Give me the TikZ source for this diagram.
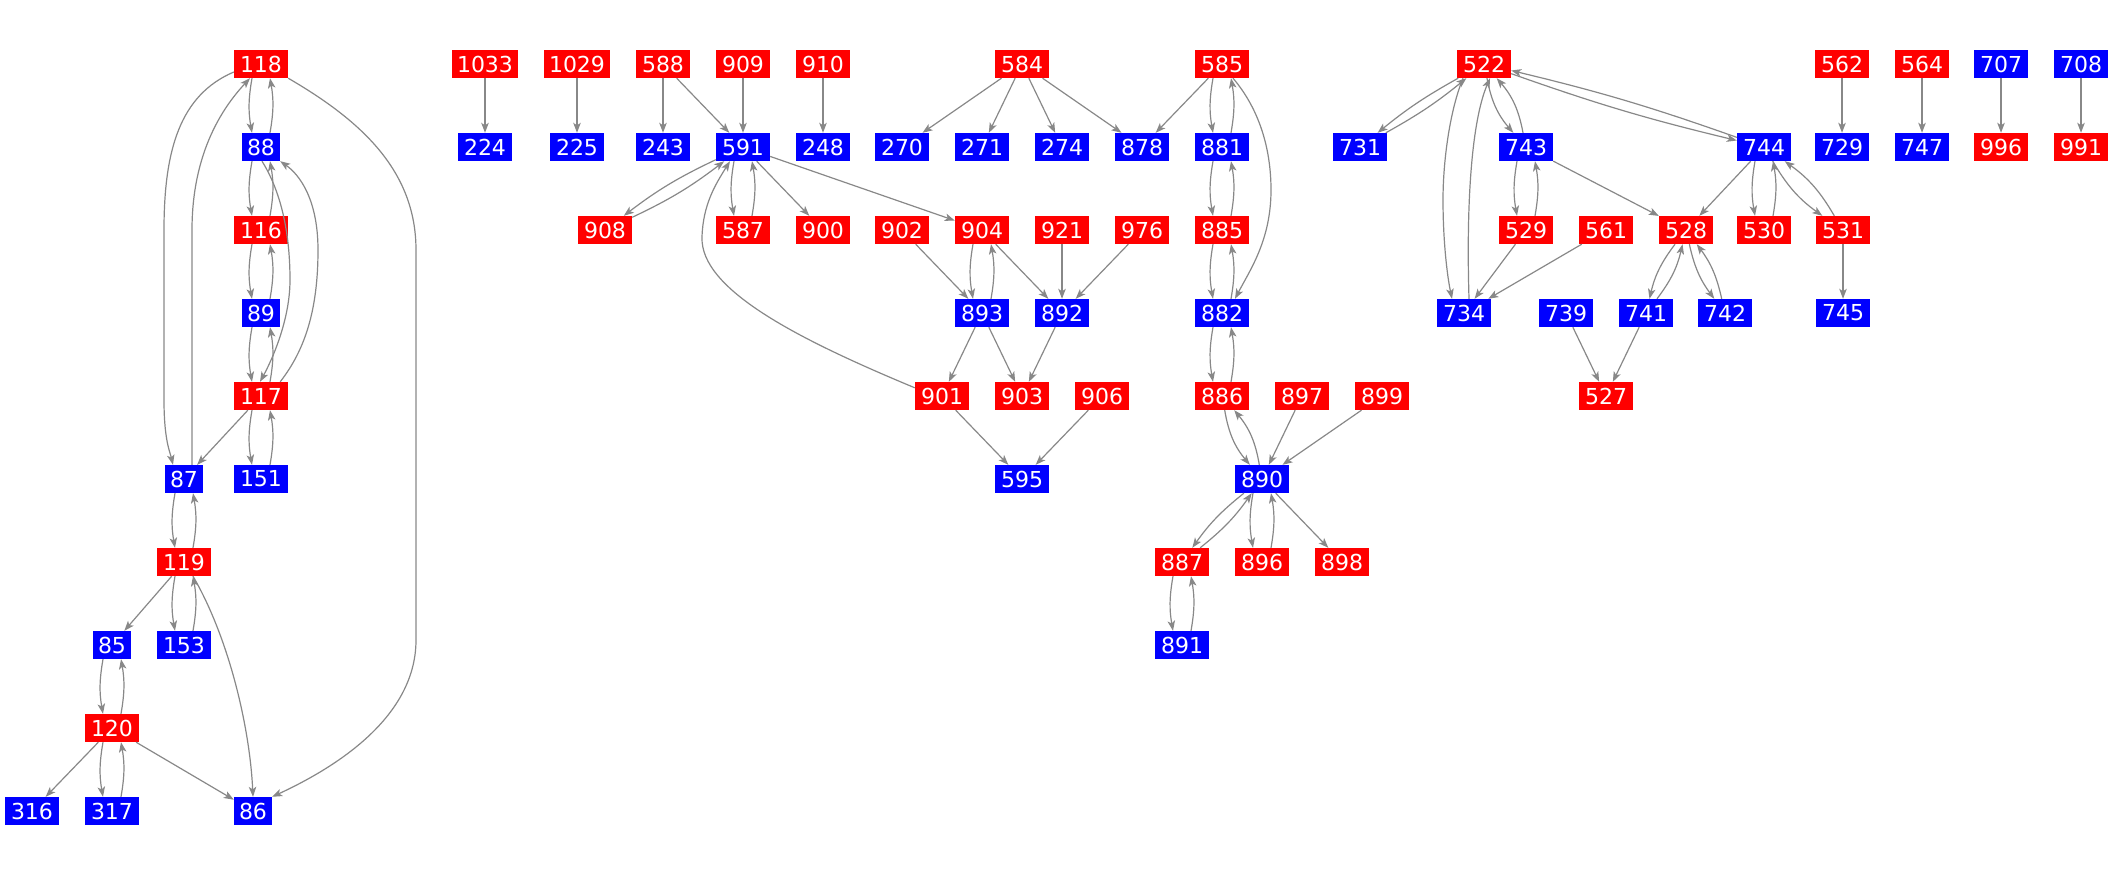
\documentclass[tikz,border=0pt]{standalone}
\usepackage{fontspec}
\setmainfont{DejaVu Sans}
\usetikzlibrary{arrows.meta}
\definecolor{eg}{HTML}{888888}
\definecolor{nr}{HTML}{FF0000}
\definecolor{nb}{HTML}{0000FF}
\newcommand{\VP}[2]{%
  \draw[e] ([xshift=-9pt]#1.south) to[bend right=10] ([xshift=-9pt]#2.north);
  \draw[e] ([xshift=9pt]#2.north) to[bend right=10] ([xshift=9pt]#1.south);}
\newcommand{\DP}[3]{%
  \draw[e] (#1) to[bend right=#3] (#2);
  \draw[e] (#2) to[bend right=#3] (#1);}
\begin{document}
\begin{tikzpicture}[x=1pt,y=-1pt,
  nd/.style={rectangle,inner sep=0pt,minimum height=28pt,text=white,
    font=\fontsize{22pt}{26pt}\selectfont},
  R/.style={nd,fill=nr,minimum width=54pt},
  B/.style={nd,fill=nb,minimum width=54pt},
  w2/.style={minimum width=38pt},
  w4/.style={minimum width=66pt},
  e/.style={draw=eg,line width=1.2pt,-{Stealth[length=10pt,width=7.5pt,inset=2.5pt]}}]
\useasboundingbox (0,0) rectangle (2117,875);
% left cluster
\node[R] (n118) at (261,64) {118};
\node[B,w2] (n88) at (261,147) {88};
\node[R] (n116) at (261,230) {116};
\node[B,w2] (n89) at (261,313) {89};
\node[R] (n117) at (261,396) {117};
\node[B,w2] (n87) at (184,479) {87};
\node[B] (n151) at (261,479) {151};
\node[R] (n119) at (184,562) {119};
\node[B,w2] (n85) at (112,645) {85};
\node[B] (n153) at (184,645) {153};
\node[R] (n120) at (112,728) {120};
\node[B] (n316) at (32,811) {316};
\node[B] (n317) at (112,811) {317};
\node[B,w2] (n86) at (253,811) {86};
% middle
\node[R,w4] (n1033) at (485,64) {1033};
\node[B] (n224) at (485,147) {224};
\node[R,w4] (n1029) at (577,64) {1029};
\node[B] (n225) at (577,147) {225};
\node[R] (n588) at (663,64) {588};
\node[B] (n243) at (663,147) {243};
\node[R] (n909) at (743,64) {909};
\node[B] (n591) at (743,147) {591};
\node[R] (n910) at (823,64) {910};
\node[B] (n248) at (823,147) {248};
\node[R] (n584) at (1022,64) {584};
\node[B] (n270) at (902,147) {270};
\node[B] (n271) at (982,147) {271};
\node[B] (n274) at (1062,147) {274};
\node[B] (n878) at (1142,147) {878};
\node[R] (n585) at (1222,64) {585};
\node[B] (n881) at (1222,147) {881};
\node[R] (n908) at (605,230) {908};
\node[R] (n587) at (743,230) {587};
\node[R] (n900) at (823,230) {900};
\node[R] (n902) at (902,230) {902};
\node[R] (n904) at (982,230) {904};
\node[R] (n921) at (1062,230) {921};
\node[R] (n976) at (1142,230) {976};
\node[R] (n885) at (1222,230) {885};
\node[B] (n893) at (982,313) {893};
\node[B] (n892) at (1062,313) {892};
\node[B] (n882) at (1222,313) {882};
\node[R] (n901) at (942,396) {901};
\node[R] (n903) at (1022,396) {903};
\node[R] (n906) at (1102,396) {906};
\node[R] (n886) at (1222,396) {886};
\node[R] (n897) at (1302,396) {897};
\node[R] (n899) at (1382,396) {899};
\node[B] (n595) at (1022,479) {595};
\node[B] (n890) at (1262,479) {890};
\node[R] (n887) at (1182,562) {887};
\node[R] (n896) at (1262,562) {896};
\node[R] (n898) at (1342,562) {898};
\node[B] (n891) at (1182,645) {891};
% right
\node[R] (n522) at (1484,64) {522};
\node[R] (n562) at (1842,64) {562};
\node[R] (n564) at (1922,64) {564};
\node[B] (n707) at (2001,64) {707};
\node[B] (n708) at (2081,64) {708};
\node[B] (n731) at (1360,147) {731};
\node[B] (n743) at (1526,147) {743};
\node[B] (n744) at (1764,147) {744};
\node[B] (n729) at (1842,147) {729};
\node[B] (n747) at (1922,147) {747};
\node[R] (n996) at (2001,147) {996};
\node[R] (n991) at (2081,147) {991};
\node[R] (n529) at (1526,230) {529};
\node[R] (n561) at (1606,230) {561};
\node[R] (n528) at (1686,230) {528};
\node[R] (n530) at (1764,230) {530};
\node[R] (n531) at (1843,230) {531};
\node[B] (n734) at (1464,313) {734};
\node[B] (n739) at (1566,313) {739};
\node[B] (n741) at (1646,313) {741};
\node[B] (n742) at (1725,313) {742};
\node[B] (n745) at (1843,313) {745};
\node[R] (n527) at (1606,396) {527};
% vertical pairs
\VP{n118}{n88}
\VP{n88}{n116}
\VP{n116}{n89}
\VP{n89}{n117}
\VP{n117}{n151}
\VP{n87}{n119}
\VP{n119}{n153}
\VP{n85}{n120}
\VP{n120}{n317}
\VP{n591}{n587}
\VP{n904}{n893}
\VP{n585}{n881}
\VP{n881}{n885}
\VP{n885}{n882}
\VP{n882}{n886}
\VP{n890}{n896}
\VP{n887}{n891}
\VP{n743}{n529}
\VP{n744}{n530}
% diagonal pairs
\DP{n591}{n908}{6}
\DP{n522}{n731}{5}
\DP{n890}{n887}{8}
\DP{n886}{n890}{15}
\DP{n522}{n743}{15}
\DP{n744}{n531}{12}
\DP{n528}{n741}{12}
\DP{n528}{n742}{12}
\DP{n522}{n744}{3}
% straight edges
\draw[e] (n117) -- (n87);
\draw[e] (n119) -- (n85);
\draw[e] (n120) -- (n316);
\draw[e] (n120) -- (n86);
\draw[e] (n1033) -- (n224);
\draw[e] (n1029) -- (n225);
\draw[e] (n588) -- (n243);
\draw[e] (n588) -- (n591);
\draw[e] (n909) -- (n591);
\draw[e] (n910) -- (n248);
\draw[e] (n591) -- (n900);
\draw[e] (n591) -- (n904);
\draw[e] (n902) -- (n893);
\draw[e] (n904) -- (n892);
\draw[e] (n921) -- (n892);
\draw[e] (n976) -- (n892);
\draw[e] (n893) -- (n901);
\draw[e] (n893) -- (n903);
\draw[e] (n892) -- (n903);
\draw[e] (n901) -- (n595);
\draw[e] (n906) -- (n595);
\draw[e] (n584) -- (n270);
\draw[e] (n584) -- (n271);
\draw[e] (n584) -- (n274);
\draw[e] (n584) -- (n878);
\draw[e] (n585) -- (n878);
\draw[e] (n897) -- (n890);
\draw[e] (n899) -- (n890);
\draw[e] (n890) -- (n898);
\draw[e] (n743) -- (n528);
\draw[e] (n529) -- (n734);
\draw[e] (n561) -- (n734);
\draw[e] (n744) -- (n528);
\draw[e] (n739) -- (n527);
\draw[e] (n741) -- (n527);
\draw[e] (n531) -- (n745);
\draw[e] (n562) -- (n729);
\draw[e] (n564) -- (n747);
\draw[e] (n707) -- (n996);
\draw[e] (n708) -- (n991);
% curved edges
\draw[e] ([yshift=-8pt]n118.west) .. controls (180,95) and (164,150) .. (164,230)
  -- (164,400) .. controls (164,440) and (170,452) .. ([xshift=-11pt]n87.north);
\draw[e] ([xshift=8pt]n87.north) -- (192,230) .. controls (192,150) and (225,105) .. ([xshift=-11pt]n118.south);
\draw[e] (n118.south east) .. controls (360,120) and (416,170) .. (416,250)
  -- (416,640) .. controls (416,720) and (330,770) .. (n86.north east);
\draw[e] ([xshift=1pt]n88.south) .. controls (280,190) and (290,230) .. (290,280)
  .. controls (290,320) and (272,360) .. ([xshift=-1pt]n117.north);
\draw[e] ([xshift=-8pt]n117.north east) .. controls (305,350) and (318,310) .. (318,250)
  .. controls (318,200) and (300,175) .. (n88.south east);
\draw[e] ([xshift=9pt]n119.south) .. controls (230,640) and (250,730) .. (n86.north);
\draw[e] ([yshift=-6pt]n901.north west) .. controls (800,340) and (700,290) .. (702,237)
  .. controls (703,205) and (715,185) .. ([xshift=-13pt]n591.south);
\draw[e] ([xshift=11pt]n585.south) .. controls (1260,110) and (1271,150) .. (1271,190)
  .. controls (1271,240) and (1250,270) .. ([xshift=13pt]n882.north);
\draw[e] ([xshift=-21pt]n522.south) .. controls (1450,110) and (1443,160) .. (1443,200)
  .. controls (1443,240) and (1447,275) .. ([xshift=-12pt]n734.north);
\draw[e] ([xshift=5pt]n734.north) .. controls (1466,200) and (1472,120) .. ([xshift=6pt]n522.south);
\end{tikzpicture}
\end{document}
